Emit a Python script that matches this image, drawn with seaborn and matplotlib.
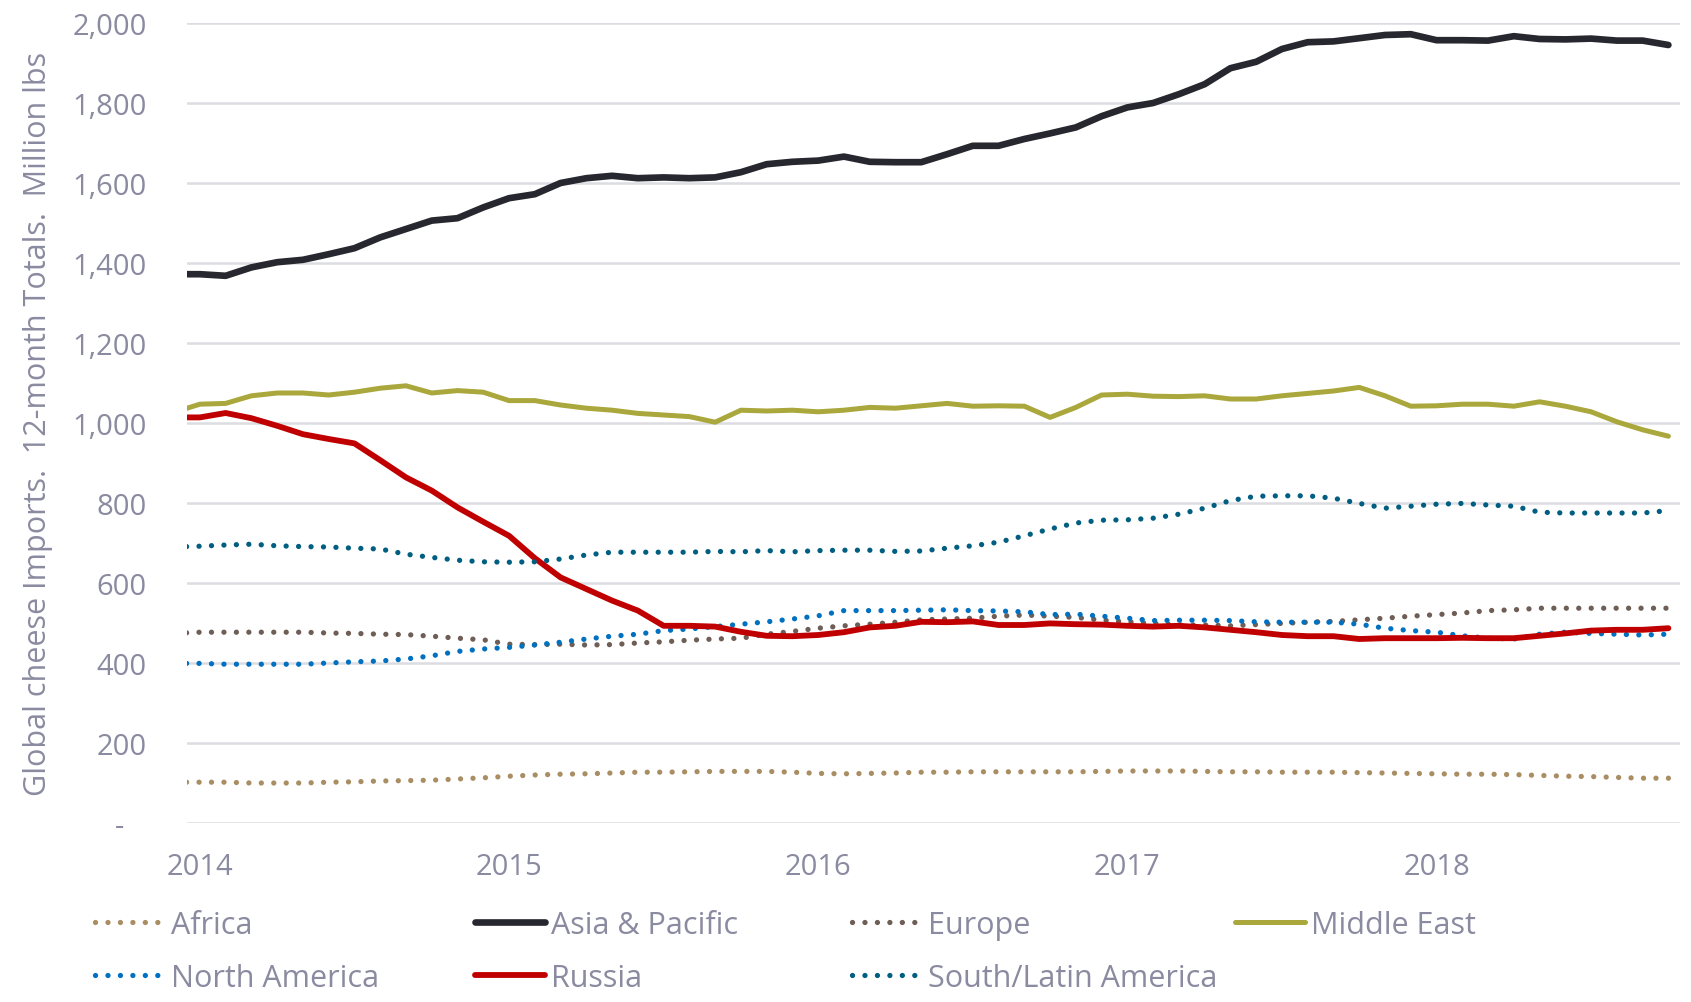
import numpy as np
import pandas as pd
import matplotlib
matplotlib.use("Agg")
import matplotlib.pyplot as plt
import seaborn as sns

# monthly 12-month totals, Dec 2013 .. Oct 2018 (Dec 2013 sits half off the left edge)
months = pd.period_range("2013-12", "2018-10", freq="M")
year_labels = ["2014", "2015", "2016", "2017", "2018"]

africa = [102, 102, 102, 100, 100, 100, 102, 103, 105, 106, 107, 110, 113, 117, 120,
          122, 123, 125, 127, 127, 128, 129, 129, 129, 127, 124, 123, 124, 125, 127,
          127, 128, 128, 128, 128, 128, 129, 130, 130, 130, 129, 128, 128, 127, 127,
          127, 126, 125, 124, 123, 122, 122, 121, 119, 117, 116, 114, 112, 112]
asia_pacific = [1372, 1372, 1368, 1389, 1402, 1408, 1422, 1437, 1464, 1485, 1506, 1512,
                1539, 1562, 1572, 1600, 1612, 1618, 1612, 1614, 1612, 1614, 1627, 1647,
                1653, 1656, 1666, 1653, 1652, 1652, 1672, 1693, 1693, 1710, 1724, 1739,
                1767, 1789, 1800, 1822, 1847, 1887, 1903, 1935, 1952, 1954, 1962, 1970,
                1972, 1957, 1957, 1956, 1967, 1960, 1959, 1961, 1956, 1956, 1945]
europe = [474, 477, 477, 477, 477, 477, 475, 474, 472, 471, 467, 462, 458, 447, 446,
          447, 445, 446, 450, 453, 457, 460, 462, 472, 479, 487, 493, 497, 502, 508,
          510, 512, 517, 520, 517, 514, 507, 503, 499, 495, 495, 493, 496, 499, 502,
          504, 508, 512, 517, 521, 525, 531, 533, 537, 537, 537, 537, 537, 537]
middle_east = [1027, 1047, 1049, 1068, 1075, 1075, 1070, 1077, 1087, 1093, 1075, 1081,
               1077, 1056, 1056, 1045, 1037, 1032, 1024, 1020, 1016, 1002, 1032, 1030,
               1032, 1028, 1032, 1039, 1037, 1043, 1049, 1042, 1043, 1042, 1014, 1039,
               1070, 1072, 1067, 1066, 1068, 1060, 1060, 1068, 1074, 1080, 1089, 1068,
               1042, 1043, 1047, 1047, 1042, 1053, 1042, 1028, 1003, 983, 967]
north_america = [399, 399, 397, 397, 397, 397, 400, 403, 405, 410, 418, 429, 435, 439,
                 445, 452, 460, 467, 472, 481, 485, 491, 497, 503, 510, 518, 531, 531,
                 531, 532, 533, 531, 530, 528, 521, 522, 517, 512, 506, 507, 507, 506,
                 503, 502, 502, 502, 497, 487, 481, 477, 468, 462, 460, 472, 477, 474,
                 472, 470, 472]
russia = [1014, 1014, 1025, 1012, 993, 972, 960, 949, 907, 864, 831, 789, 753, 718,
          662, 614, 585, 556, 531, 493, 493, 491, 478, 468, 467, 470, 477, 489, 493,
          503, 502, 504, 495, 495, 499, 497, 496, 493, 491, 493, 489, 483, 477, 470,
          467, 467, 460, 462, 462, 462, 463, 462, 462, 468, 474, 481, 483, 483, 487]
south_latin_america = [690, 692, 695, 697, 693, 691, 690, 687, 685, 672, 664, 657, 653,
                       652, 653, 660, 670, 677, 677, 677, 677, 679, 678, 681, 678, 681,
                       682, 682, 679, 680, 687, 693, 702, 718, 735, 750, 757, 758, 762,
                       772, 787, 806, 817, 818, 818, 812, 799, 787, 792, 797, 799, 795,
                       792, 777, 775, 775, 775, 775, 781]

series_names = ["Africa", "Asia & Pacific", "Europe", "Middle East",
                "North America", "Russia", "South/Latin America"]
series_values = [africa, asia_pacific, europe, middle_east,
                 north_america, russia, south_latin_america]
series_colors = ["#a98e64", "#27272f", "#6e5e55", "#aaa73c",
                 "#0070c0", "#c00000", "#005f80"]
series_widths = [3.8, 4.8, 3.8, 3.6, 3.8, 4.2, 3.8]
series_dotted = [True, False, True, False, True, False, True]

text_color = "#8a8aa0"
grid_color = "#dcdce3"

sns.set_style("white")
plt.rcParams["font.family"] = ["Open Sans", "DejaVu Sans"]

fig = plt.figure(figsize=(16.91, 10.03), dpi=100)
ax = fig.add_axes([187 / 1691, 1 - 824 / 1003, (1680 - 187) / 1691, 800 / 1003])

x = np.arange(len(months)) - 1
for name, vals, color, lw, dotted in zip(series_names, series_values, series_colors,
                                         series_widths, series_dotted):
    ls = (0, (0.01, 2.35)) if dotted else "-"
    sns.lineplot(x=x, y=vals, ax=ax, color=color, linewidth=lw, linestyle=ls,
                 dash_capstyle="round", solid_joinstyle="round", label=name, legend=False)

ax.set_xlim(-0.5, 57.45)
ax.set_ylim(0, 2000)

year_pos = [i - 1 for i, m in enumerate(months) if m.month == 1]
ax.set_xticks(year_pos)
ax.set_xticklabels(year_labels)
yt = np.arange(0, 2001, 200)
ax.set_yticks(yt)
ax.set_yticklabels([f"{v:,}" if v else "-   " for v in yt])

ax.grid(False)
ax.yaxis.grid(True, color=grid_color, linewidth=1.8)
ax.set_axisbelow(True)
for s in ax.spines.values():
    s.set_visible(False)
ax.tick_params(axis="y", length=0, pad=29, labelsize=21, labelcolor=text_color)
ax.tick_params(axis="x", length=0, pad=21, labelsize=21, labelcolor=text_color)
ax.set_xlabel("")
ax.set_ylabel("Global cheese Imports.  12-month Totals.  Million lbs",
              fontsize=22, color=text_color)
ax.yaxis.set_label_coords(-0.0895, 0.5)

# Excel-style legend: fixed-width columns, two rows
handles = ax.get_lines()
columns = [[0, 4], [1, 5], [2, 6], [3]]
col_x = [95, 475, 852, 1235]
for idx, cx in zip(columns, col_x):
    fig.legend([handles[i] for i in idx], [series_names[i] for i in idx],
               loc="upper left", bbox_to_anchor=(cx / 1691, 1 - 911 / 1003),
               frameon=False, fontsize=22, handlelength=2.3, handletextpad=0.2,
               labelspacing=0.75, borderpad=0, borderaxespad=0, labelcolor=text_color)

fig.savefig("out.png", dpi=100)
